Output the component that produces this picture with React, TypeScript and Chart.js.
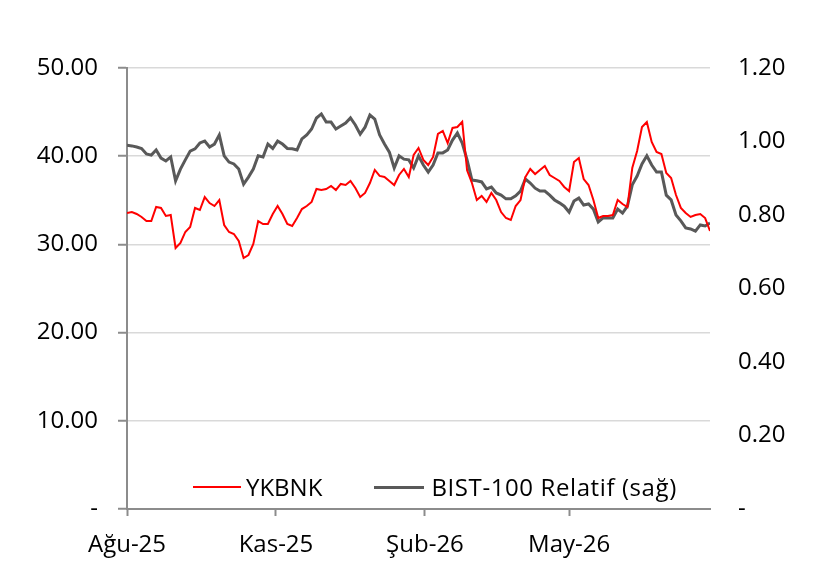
import React, { useEffect, useRef } from "react";
import { Chart, registerables } from "chart.js";

Chart.register(...registerables);

// one reading every 3 days, starting 1 Aug 2025
const startDate = "2025-08-01";
const stepDays = 3;

// YKBNK price (left axis, TL)
const ykbnk = [
  33.56, 33.67, 33.45, 33.11, 32.65, 32.65, 34.24, 34.13, 33.22, 33.33,
  29.59, 30.16, 31.41, 31.97, 34.13, 33.9, 35.37, 34.69, 34.35, 35.03,
  32.2, 31.41, 31.18, 30.39, 28.46, 28.8, 30.05, 32.65, 32.31, 32.31,
  33.45, 34.35, 33.45, 32.31, 32.09, 32.99, 34.01, 34.35, 34.81, 36.28,
  36.17, 36.28, 36.62, 36.17, 36.85, 36.73, 37.19, 36.39, 35.37, 35.83,
  36.96, 38.44, 37.76, 37.64, 37.19, 36.73, 37.87, 38.55, 37.64, 40.14,
  40.93, 39.57, 39.0, 39.91, 42.52, 42.86, 41.5, 43.2, 43.31, 43.9,
  38.4, 36.96, 35.03, 35.49, 34.81, 35.83, 35.03, 33.67, 32.99, 32.77,
  34.35, 35.03, 37.64, 38.55, 37.98, 38.44, 38.89, 37.87, 37.53, 37.19,
  36.51, 36.05, 39.34, 39.8, 37.41, 36.73, 35.03, 32.99, 33.22, 33.22,
  33.33, 35.03, 34.58, 34.24, 38.66, 40.59, 43.31, 43.88, 41.61, 40.48,
  40.25, 38.1, 37.53, 35.6, 34.13, 33.56, 33.11, 33.33, 33.45, 32.99,
  31.52,
];

// BIST-100 relative performance (right axis)
const bistRelative = [
  0.99, 0.988, 0.985, 0.981, 0.966, 0.963, 0.977, 0.955, 0.947, 0.958,
  0.893, 0.925, 0.95, 0.974, 0.98, 0.996, 1.001, 0.985, 0.993, 1.018,
  0.961, 0.944, 0.939, 0.925, 0.884, 0.903, 0.925, 0.961, 0.958, 0.993,
  0.981, 1.001, 0.993, 0.981, 0.98, 0.977, 1.007, 1.018, 1.034, 1.064,
  1.075, 1.053, 1.053, 1.034, 1.042, 1.05, 1.064, 1.045, 1.02, 1.039,
  1.072, 1.061, 1.018, 0.993, 0.971, 0.928, 0.961, 0.952, 0.95, 0.928,
  0.961, 0.936, 0.917, 0.936, 0.969, 0.969, 0.977, 1.004, 1.023, 0.996,
  0.95, 0.895, 0.893, 0.89, 0.871, 0.876, 0.86, 0.854, 0.844, 0.844,
  0.852, 0.865, 0.898, 0.887, 0.873, 0.865, 0.865, 0.854, 0.841, 0.833,
  0.824, 0.808, 0.838, 0.846, 0.827, 0.83, 0.816, 0.781, 0.792, 0.792,
  0.792, 0.816, 0.805, 0.824, 0.882, 0.906, 0.939, 0.961, 0.936, 0.917,
  0.917, 0.854, 0.841, 0.8, 0.784, 0.765, 0.762, 0.756, 0.773, 0.77,
  0.778,
];

// month ticks (days after startDate)
const monthTickDays = [0, 92, 184, 273];
const monthLabels = ["Ağu-25", "Kas-25", "Şub-26", "May-26"];

const seriesNames = ["YKBNK", "BIST-100 Relatif (sağ)"];
const seriesColors = ["#ff0000", "#595959"];

const FONT = "'Open Sans', 'Noto Sans', sans-serif";
const AXIS_GREY = "#8c8c8c";

const App: React.FC = () => {
  const chartRef = useRef<HTMLCanvasElement>(null);
  const chartInstanceRef = useRef<Chart | null>(null);

  useEffect(() => {
    document.body.style.margin = "0";
    if (!chartRef.current) return;
    const ctx = chartRef.current.getContext("2d");

    if (chartInstanceRef.current) {
      chartInstanceRef.current.destroy();
    }

    const font = { family: FONT, size: 24 };

    chartInstanceRef.current = new Chart(ctx!, {
      type: "line",
      data: {
        datasets: [
          {
            label: seriesNames[0],
            data: ykbnk.map((v, i) => ({ x: i * stepDays, y: v })),
            borderColor: seriesColors[0],
            borderWidth: 2,
            pointRadius: 0,
            tension: 0,
            yAxisID: "y",
          },
          {
            label: seriesNames[1],
            data: bistRelative.map((v, i) => ({ x: i * stepDays, y: v })),
            borderColor: seriesColors[1],
            borderWidth: 3,
            pointRadius: 0,
            tension: 0,
            yAxisID: "y1",
          },
        ],
      },
      options: {
        responsive: true,
        maintainAspectRatio: false,
        animation: false,
        layout: { padding: { top: 68, left: 0, right: 0, bottom: 0 } },
        plugins: {
          legend: { display: false },
          tooltip: { enabled: false },
        },
        scales: {
          x: {
            type: "linear",
            min: 0,
            max: (ykbnk.length - 1) * stepDays,
            afterBuildTicks: (scale: any) => {
              scale.ticks = monthTickDays.map((v) => ({ value: v }));
            },
            afterFit: (scale: any) => {
              scale.height = 75;
            },
            ticks: {
              autoSkip: false,
              maxRotation: 0,
              padding: 15,
              color: "#000",
              font,
              callback: (value: any) => {
                const idx = monthTickDays.indexOf(Number(value));
                return idx >= 0 ? monthLabels[idx] : "";
              },
            },
            grid: {
              drawOnChartArea: false,
              drawTicks: true,
              tickLength: 7,
              tickColor: AXIS_GREY,
              tickWidth: 2,
            },
            border: { display: true, color: AXIS_GREY, width: 2 },
          },
          y: {
            position: "left",
            min: 0,
            max: 50,
            afterFit: (scale: any) => {
              scale.width = 127;
            },
            ticks: {
              stepSize: 10,
              padding: 20,
              color: "#000",
              font,
              callback: (value: any) =>
                Number(value) === 0 ? "-" : Number(value).toFixed(2),
            },
            grid: {
              color: "#d9d9d9",
              lineWidth: 1.5,
              drawTicks: true,
              tickLength: 9,
              tickColor: AXIS_GREY,
              tickWidth: 2,
            },
            border: { display: true, color: AXIS_GREY, width: 2 },
          },
          y1: {
            position: "right",
            min: 0,
            max: 1.2,
            afterFit: (scale: any) => {
              scale.width = 116;
            },
            ticks: {
              stepSize: 0.2,
              padding: 28,
              color: "#000",
              font,
              callback: (value: any) =>
                Number(value) === 0 ? "-" : Number(value).toFixed(2),
            },
            grid: { display: false, drawTicks: false },
            border: { display: false },
          },
        },
      },
    });

    return () => {
      if (chartInstanceRef.current) {
        chartInstanceRef.current.destroy();
        chartInstanceRef.current = null;
      }
    };
  }, []);

  const legendText: React.CSSProperties = {
    fontFamily: FONT,
    fontSize: 24,
    color: "#000",
    lineHeight: "28px",
    letterSpacing: "0.6px",
    whiteSpace: "nowrap",
  };

  return (
    <div style={{ position: "relative", width: 826, height: 584, background: "#fff" }}>
      <canvas ref={chartRef} />
      <div
        style={{
          position: "absolute",
          left: 193,
          top: 473,
          display: "flex",
          alignItems: "center",
        }}
      >
        <span style={{ display: "inline-block", width: 48, height: 2, background: seriesColors[0] }} />
        <span style={{ ...legendText, marginLeft: 5, letterSpacing: "0px" }}>{seriesNames[0]}</span>
        <span
          style={{
            display: "inline-block",
            width: 50,
            height: 3,
            background: seriesColors[1],
            marginLeft: 52,
          }}
        />
        <span style={{ ...legendText, marginLeft: 7 }}>{seriesNames[1]}</span>
      </div>
    </div>
  );
};

export default App;
